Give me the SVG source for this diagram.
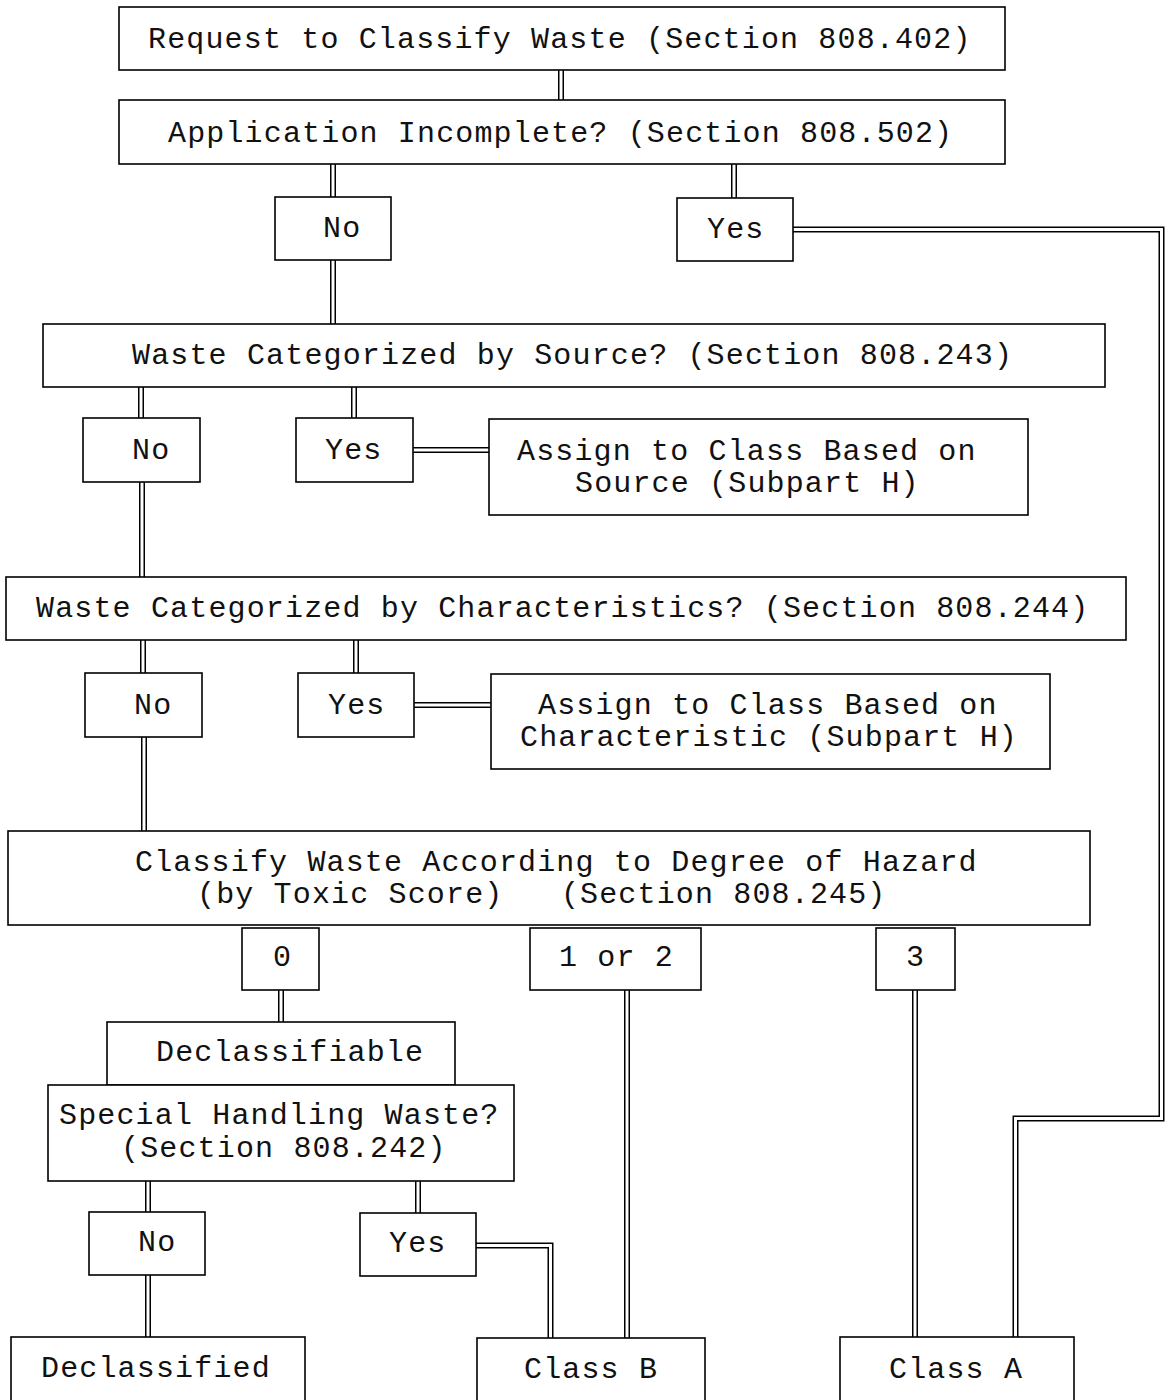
<svg xmlns="http://www.w3.org/2000/svg" xmlns:xlink="http://www.w3.org/1999/xlink" width="1165" height="1400" viewBox="0 0 1165 1400">
<style>
.box{fill:#fff;stroke:#000;stroke-width:1.6}
.t{font-family:"Liberation Mono","Courier New",monospace;font-size:30px;letter-spacing:1.15px;fill:#111;white-space:pre}
.o{fill:none;stroke:#000;stroke-width:6}
.i{fill:none;stroke:#fff;stroke-width:3}
</style>
<defs>
<path id="c1" d="M561 70V100"/>
<path id="c2" d="M333 164V197"/>
<path id="c3" d="M734 164V198"/>
<path id="c4" d="M333 260V324"/>
<path id="c5" d="M793 229.5H1161.5V1118.5H1015.5V1337"/>
<path id="c6" d="M141 387V418"/>
<path id="c7" d="M354 387V418"/>
<path id="c8" d="M413 450H489"/>
<path id="c9" d="M142 482V577"/>
<path id="c10" d="M143 640V673"/>
<path id="c11" d="M356 640V673"/>
<path id="c12" d="M414 705H491"/>
<path id="c13" d="M144 737V831"/>
<path id="c14" d="M281 990V1022"/>
<path id="c15" d="M627 990V1338"/>
<path id="c16" d="M915 990V1337"/>
<path id="c17" d="M148 1181V1212"/>
<path id="c18" d="M418 1181V1213"/>
<path id="c19" d="M148 1275V1337"/>
<path id="c20" d="M476 1245.5H550.5V1338"/>
</defs>
<rect width="1165" height="1400" fill="#fff"/>
<g id="connectors">
<g class="o"><use href="#c1"/><use href="#c2"/><use href="#c3"/><use href="#c4"/><use href="#c5"/><use href="#c6"/><use href="#c7"/><use href="#c8"/><use href="#c9"/><use href="#c10"/><use href="#c11"/><use href="#c12"/><use href="#c13"/><use href="#c14"/><use href="#c15"/><use href="#c16"/><use href="#c17"/><use href="#c18"/><use href="#c19"/><use href="#c20"/></g>
<g class="i"><use href="#c1"/><use href="#c2"/><use href="#c3"/><use href="#c4"/><use href="#c5"/><use href="#c6"/><use href="#c7"/><use href="#c8"/><use href="#c9"/><use href="#c10"/><use href="#c11"/><use href="#c12"/><use href="#c13"/><use href="#c14"/><use href="#c15"/><use href="#c16"/><use href="#c17"/><use href="#c18"/><use href="#c19"/><use href="#c20"/></g>
</g>
<g id="n-request"><rect class="box" x="119" y="7" width="886" height="63"/><text class="t" x="148" y="48">Request to Classify Waste (Section 808.402)</text></g>
<g id="n-incomplete"><rect class="box" x="119" y="100" width="886" height="64"/><text class="t" x="168" y="142">Application Incomplete? (Section 808.502)</text></g>
<g id="n-no1"><rect class="box" x="275" y="197" width="116" height="63"/><text class="t" x="323" y="237">No</text></g>
<g id="n-yes1"><rect class="box" x="677" y="198" width="116" height="63"/><text class="t" x="707" y="238">Yes</text></g>
<g id="n-source"><rect class="box" x="43" y="324" width="1062" height="63"/><text class="t" x="132" y="364">Waste Categorized by Source? (Section 808.243)</text></g>
<g id="n-no2"><rect class="box" x="83" y="418" width="117" height="64"/><text class="t" x="132" y="459">No</text></g>
<g id="n-yes2"><rect class="box" x="296" y="418" width="117" height="64"/><text class="t" x="325" y="459">Yes</text></g>
<g id="n-assign-source"><rect class="box" x="489" y="419" width="539" height="96"/><text class="t" x="517" y="460">Assign to Class Based on</text><text class="t" x="575" y="492">Source (Subpart H)</text></g>
<g id="n-char"><rect class="box" x="6" y="577" width="1120" height="63"/><text class="t" x="36" y="617">Waste Categorized by Characteristics? (Section 808.244)</text></g>
<g id="n-no3"><rect class="box" x="85" y="673" width="117" height="64"/><text class="t" x="134" y="714">No</text></g>
<g id="n-yes3"><rect class="box" x="298" y="673" width="116" height="64"/><text class="t" x="328" y="714">Yes</text></g>
<g id="n-assign-char"><rect class="box" x="491" y="674" width="559" height="95"/><text class="t" x="538" y="714">Assign to Class Based on</text><text class="t" x="520" y="746">Characteristic (Subpart H)</text></g>
<g id="n-classify"><rect class="box" x="8" y="831" width="1082" height="94"/><text class="t" x="135" y="871">Classify Waste According to Degree of Hazard</text><text class="t" x="197" y="903">(by Toxic Score)   (Section 808.245)</text></g>
<g id="n-0"><rect class="box" x="242" y="928" width="77" height="62"/><text class="t" x="273" y="966">0</text></g>
<g id="n-12"><rect class="box" x="530" y="928" width="171" height="62"/><text class="t" x="559" y="966">1 or 2</text></g>
<g id="n-3"><rect class="box" x="876" y="928" width="79" height="62"/><text class="t" x="906" y="966">3</text></g>
<g id="n-declassifiable"><rect class="box" x="107" y="1022" width="348" height="63"/><text class="t" x="156" y="1061">Declassifiable</text></g>
<g id="n-special"><rect class="box" x="48" y="1085" width="466" height="96"/><text class="t" x="59" y="1124">Special Handling Waste?</text><text class="t" x="121" y="1157">(Section 808.242)</text></g>
<g id="n-no4"><rect class="box" x="89" y="1212" width="116" height="63"/><text class="t" x="138" y="1251">No</text></g>
<g id="n-yes4"><rect class="box" x="360" y="1213" width="116" height="63"/><text class="t" x="389" y="1252">Yes</text></g>
<g id="n-declassified"><rect class="box" x="11" y="1337" width="294" height="80"/><text class="t" x="41" y="1377">Declassified</text></g>
<g id="n-classb"><rect class="box" x="477" y="1338" width="228" height="80"/><text class="t" x="524" y="1378">Class B</text></g>
<g id="n-classa"><rect class="box" x="840" y="1337" width="234" height="80"/><text class="t" x="889" y="1378">Class A</text></g>
</svg>
